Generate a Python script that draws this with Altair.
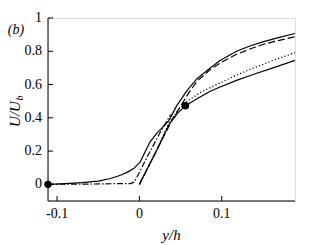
import altair as alt
import pandas as pd

# ---- data ----
solid_a_x = [-0.111, -0.09, -0.07, -0.05, -0.035, -0.023, -0.015, -0.007, 0.001, 0.007, 0.013, 0.021,
             0.029, 0.036, 0.045, 0.058, 0.07, 0.086, 0.098, 0.118, 0.135, 0.151, 0.17, 0.189]
solid_a_y = [0.0, 0.004, 0.01, 0.02, 0.035, 0.055, 0.072, 0.095, 0.135, 0.196, 0.256, 0.307,
             0.347, 0.385, 0.47, 0.565, 0.635, 0.70, 0.745, 0.80, 0.833, 0.858, 0.884, 0.907]

dashed_x = [0.0, 0.02, 0.04, 0.05, 0.06, 0.07, 0.086, 0.1, 0.118, 0.135, 0.151, 0.17, 0.189]
dashed_y = [0.0, 0.195, 0.39, 0.47, 0.55, 0.62, 0.69, 0.735, 0.782, 0.815, 0.842, 0.866, 0.887]

solid_b_x = [0.0, 0.02, 0.036, 0.046, 0.056, 0.07, 0.086, 0.098, 0.118, 0.139, 0.165, 0.189]
solid_b_y = [0.0, 0.195, 0.36, 0.425, 0.473, 0.515, 0.56, 0.585, 0.625, 0.662, 0.705, 0.745]

dotted_x = [0.0, 0.02, 0.036, 0.047, 0.058, 0.075, 0.098, 0.118, 0.139, 0.165, 0.189]
dotted_y = [0.0, 0.195, 0.37, 0.445, 0.50, 0.555, 0.61, 0.657, 0.70, 0.75, 0.792]

dashdot_x = [-0.111, -0.06, -0.011, -0.006, 0.01, 0.025, 0.038]
dashdot_y = [0.0, 0.002, 0.005, 0.014, 0.17, 0.31, 0.42]

marker_x = [-0.111, 0.056]
marker_y = [0.0, 0.473]

x_ticks = [-0.1, 0.0, 0.1]
x_labels = ["-0.1", "0", "0.1"]
y_ticks = [0.0, 0.2, 0.4, 0.6, 0.8, 1.0]
y_labels = ["0", "0.2", "0.4", "0.6", "0.8", "1"]

W, H = 247, 183
FONT = "Liberation Serif"

xs = alt.Scale(domain=[-0.111, 0.189], nice=False, zero=False, padding=0)
ys = alt.Scale(domain=[-0.1, 1.0], nice=False, zero=False, padding=0)


def X(f):
    return alt.X(f, scale=xs, axis=None)


def Y(f):
    return alt.Y(f, scale=ys, axis=None)


def line(xv, yv, dash=None, width=1.2):
    df = pd.DataFrame({"x": xv, "y": yv, "o": list(range(len(xv)))})
    kw = dict(color="black", strokeWidth=width, clip=True)
    if dash:
        kw["strokeDash"] = dash
    return alt.Chart(df).mark_line(**kw).encode(x=X("x:Q"), y=Y("y:Q"), order="o:Q")


one = pd.DataFrame({"a": [0]})

# axis lines
yline = alt.Chart(one).mark_rule(color="black", strokeWidth=1).encode(
    x=alt.value(0), y=alt.value(0), y2=alt.value(H))
xline = alt.Chart(one).mark_rule(color="black", strokeWidth=1).encode(
    y=alt.value(H), x=alt.value(0), x2=alt.value(W))

# inward ticks
xt = alt.Chart(pd.DataFrame({"t": x_ticks})).mark_rule(color="black", strokeWidth=1).encode(
    x=X("t:Q"), y=alt.value(H), y2=alt.value(H - 5))
yt = alt.Chart(pd.DataFrame({"t": y_ticks})).mark_rule(color="black", strokeWidth=1).encode(
    y=Y("t:Q"), x=alt.value(0), x2=alt.value(5))

# tick labels
xl = alt.Chart(pd.DataFrame({"t": x_ticks, "s": x_labels})).mark_text(
    font=FONT, fontSize=14, color="black", align="center", baseline="top").encode(
    x=X("t:Q"), y=alt.value(H + 6), text="s:N")
yl = alt.Chart(pd.DataFrame({"t": y_ticks, "s": y_labels})).mark_text(
    font=FONT, fontSize=14, color="black", align="right", baseline="middle").encode(
    y=Y("t:Q"), x=alt.value(-6), text="s:N")

markers = alt.Chart(pd.DataFrame({"x": marker_x, "y": marker_y})).mark_circle(
    color="black", opacity=1, size=55, clip=False).encode(x=X("x:Q"), y=Y("y:Q"))

label_b = alt.Chart(pd.DataFrame({"t": ["(b)"]})).mark_text(
    font=FONT, fontSize=14, fontStyle="italic", color="black", align="center", baseline="middle").encode(
    text="t:N", x=alt.value(-32), y=alt.value(12))
ytitle = alt.Chart(pd.DataFrame({"t": ["U/U"]})).mark_text(
    font=FONT, fontSize=15, fontStyle="italic", color="black", angle=270, align="center", baseline="middle").encode(
    text="t:N", x=alt.value(-33), y=alt.value(96))
ysub = alt.Chart(pd.DataFrame({"t": ["b"]})).mark_text(
    font=FONT, fontSize=10, fontStyle="italic", color="black", angle=270, align="center", baseline="middle").encode(
    text="t:N", x=alt.value(-28), y=alt.value(80))
xtitle = alt.Chart(pd.DataFrame({"t": ["y/h"]})).mark_text(
    font=FONT, fontSize=15, fontStyle="italic", color="black", align="center", baseline="middle").encode(
    text="t:N", x=alt.value(W / 2), y=alt.value(H + 34))

chart = alt.layer(
    yline, xline, xt, yt, xl, yl,
    line(solid_a_x, solid_a_y),
    line(dashed_x, dashed_y, dash=[7, 3]),
    line(solid_b_x, solid_b_y),
    line(dotted_x, dotted_y, dash=[1.2, 2.2]),
    line(dashdot_x, dashdot_y, dash=[6, 2, 1.5, 2]),
    markers, label_b, ytitle, ysub, xtitle,
).properties(
    width=W, height=H,
    autosize=alt.AutoSizeParams(type="none"),
    padding={"left": 40, "top": 10, "right": 24, "bottom": 44},
).configure_view(stroke=None).configure(background="white")

chart.save("out.html", embed_options={"renderer": "svg", "actions": False})
